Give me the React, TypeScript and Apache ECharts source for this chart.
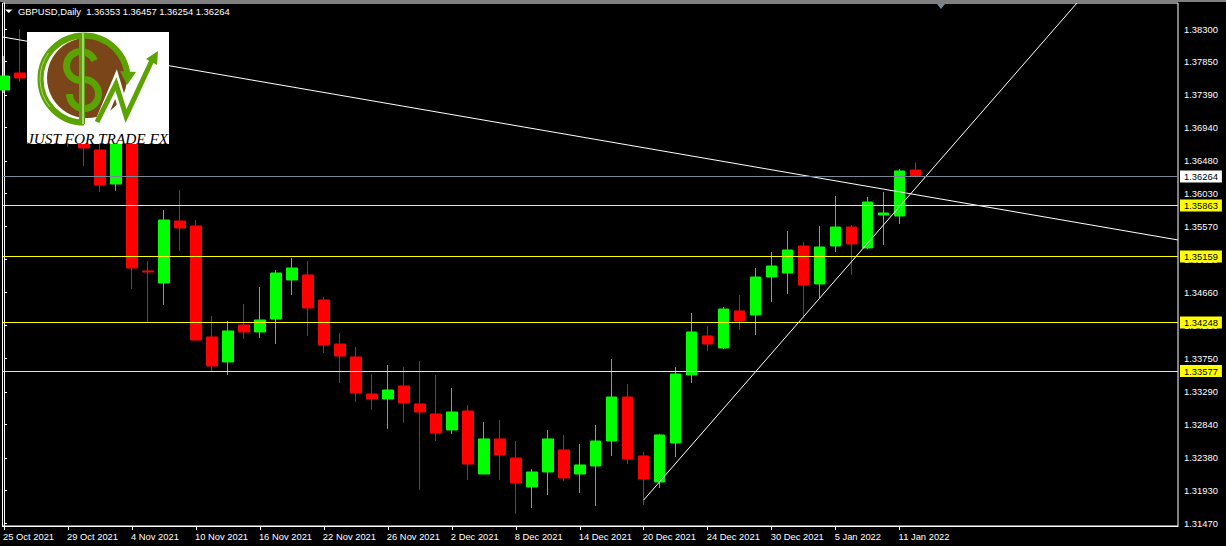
import React, { useEffect, useRef } from "react";
import * as echarts from "echarts";

const symbolTitle = "GBPUSD,Daily";
const ohlcText = "1.36353 1.36457 1.36254 1.36264";

const opens = [
  1.37458, 1.37693, 1.37596, 1.37389, 1.37458, 1.36975, 1.3663, 1.3616, 1.37044, 1.34959,
  1.34793, 1.35649, 1.3558, 1.34048, 1.33703, 1.34213, 1.34117, 1.34296, 1.34835, 1.34904,
  1.34559, 1.33951, 1.33772, 1.33261, 1.33192, 1.33371, 1.33123, 1.32985, 1.32764, 1.33026,
  1.32156, 1.3264, 1.32377, 1.31977, 1.32184, 1.32488, 1.32156, 1.32267, 1.32612, 1.33219,
  1.32405, 1.32046, 1.32584, 1.33523, 1.34062, 1.33896, 1.34407, 1.34352, 1.34876, 1.34931,
  1.35304, 1.3478, 1.35304, 1.35566, 1.35277, 1.35732, 1.35718, 1.36353,
];
const closes = [
  1.37651, 1.37624, 1.3732, 1.37665, 1.36906, 1.36657, 1.36146, 1.37113, 1.35, 1.34945,
  1.35663, 1.35553, 1.34006, 1.33647, 1.34131, 1.34117, 1.34283, 1.34931, 1.35, 1.34448,
  1.33937, 1.33785, 1.33275, 1.33192, 1.33316, 1.33137, 1.33012, 1.32722, 1.33012, 1.32294,
  1.3264, 1.32419, 1.32032, 1.32184, 1.3264, 1.32101, 1.32281, 1.32612, 1.33219, 1.32363,
  1.32087, 1.32695, 1.33537, 1.34117, 1.33951, 1.34434, 1.34269, 1.34876, 1.35028, 1.35249,
  1.34766, 1.3529, 1.35566, 1.35332, 1.35912, 1.3576, 1.3634, 1.36264,
];
const lows = [
  1.37416, 1.37568, 1.37182, 1.37251, 1.36671, 1.36409, 1.3605, 1.36064, 1.3471, 1.34255,
  1.3449, 1.35235, 1.34006, 1.33578, 1.33523, 1.3402, 1.34034, 1.33951, 1.34628, 1.34062,
  1.33827, 1.33413, 1.3315, 1.3304, 1.32778, 1.32861, 1.31936, 1.32612, 1.32709, 1.32074,
  1.32156, 1.32074, 1.31604, 1.31687, 1.31866, 1.3206, 1.31894, 1.31715, 1.32405, 1.32294,
  1.31728, 1.31963, 1.32391, 1.33413, 1.33855, 1.33882, 1.34144, 1.34075, 1.34531, 1.34641,
  1.3431, 1.34586, 1.35221, 1.34904, 1.35263, 1.35318, 1.35608, 1.36254,
];
const highs = [
  1.37927, 1.383, 1.37734, 1.37872, 1.37665, 1.37182, 1.36906, 1.3732, 1.37251, 1.35097,
  1.35801, 1.36077, 1.35663, 1.34338, 1.34269, 1.34503, 1.34738, 1.34973, 1.35138, 1.35097,
  1.346, 1.34103, 1.3391, 1.33537, 1.33661, 1.33634, 1.33716, 1.33523, 1.33344, 1.33109,
  1.32874, 1.32902, 1.32612, 1.32225, 1.32764, 1.32695, 1.32571, 1.32833, 1.33744, 1.33399,
  1.3246, 1.32709, 1.33634, 1.34379, 1.342, 1.34462, 1.34628, 1.35, 1.35221, 1.35511,
  1.35359, 1.3558, 1.35994, 1.35594, 1.35981, 1.3605, 1.36367, 1.36457,
];

const dateTickBars = [0, 4, 8, 12, 16, 20, 24, 28, 32, 36, 40, 44, 48, 52, 56];
const dateTickLabels = [
  "25 Oct 2021", "29 Oct 2021", "4 Nov 2021", "10 Nov 2021", "16 Nov 2021",
  "22 Nov 2021", "26 Nov 2021", "2 Dec 2021", "8 Dec 2021", "14 Dec 2021",
  "20 Dec 2021", "24 Dec 2021", "30 Dec 2021", "5 Jan 2022", "11 Jan 2022",
];
const priceTicks = [
  1.383, 1.3785, 1.3739, 1.3694, 1.3648, 1.3603, 1.3557, 1.3512,
  1.3466, 1.3421, 1.3375, 1.3329, 1.3284, 1.3238, 1.3193, 1.3147,
];
const yellowLevels = [1.35863, 1.35159, 1.34248, 1.33577];
const lastPrice = 1.36264;
const falling = [[-0.09375, 1.3819], [73.40625, 1.35387]];
const rising = [[40, 1.31797], [67.09, 1.38659]];

const UP = "#00ff00";
const DOWN = "#ff0000";
const FONT = "Liberation Sans";
const LOGO_GREEN = "#5aa300";
const LOGO_LIGHT = "#a9d27a";
const LOGO_BROWN = "#7a4519";
const TOP = { z: 100, zlevel: 1 };

function logo() {
  const ring = (startAngle: number, endAngle: number, lineWidth: number, stroke: string, r = 43.5) => ({
    type: "arc",
    shape: { cx: 84, cy: 79, r, startAngle, endAngle, clockwise: true },
    style: { stroke, lineWidth, fill: "none" },
  });
  const sCurve = (cx: number, cy: number, startAngle: number, endAngle: number, clockwise: boolean) => ({
    type: "arc",
    shape: { cx, cy, r: 14.5, startAngle, endAngle, clockwise },
    style: { stroke: LOGO_GREEN, lineWidth: 7, fill: "none" },
  });
  const parts: any[] = [
    { type: "rect", shape: { x: 27, y: 32, width: 142, height: 112 }, style: { fill: "#ffffff" } },
    { type: "circle", shape: { cx: 87, cy: 78, r: 40 }, style: { fill: LOGO_BROWN } },
    { type: "polyline", shape: { points: [[100, 122], [116, 84], [126, 118], [152, 60]] }, style: { stroke: "#ffffff", lineWidth: 10, fill: "none" } },
    ring(Math.PI * 0.5, Math.PI * 2.0, 6, LOGO_GREEN),
    ring(Math.PI * 0.78, Math.PI * 1.2, 1, LOGO_LIGHT, 44),
    { type: "polygon", shape: { points: [[120, 71], [136, 72], [127, 85]] }, style: { fill: LOGO_GREEN } },
    { type: "polyline", shape: { points: [[97, 122], [116, 84], [126, 116], [153, 58]] }, style: { stroke: LOGO_GREEN, lineWidth: 5, fill: "none" } },
    { type: "polygon", shape: { points: [[158, 51], [146, 59], [157, 65]] }, style: { fill: LOGO_GREEN } },
    sCurve(81, 66, -Math.PI * 0.12, Math.PI * 0.5, false),
    sCurve(84, 94, -Math.PI * 0.5, Math.PI * 1.0, true),
    { type: "rect", shape: { x: 79, y: 33, width: 6, height: 91 }, style: { fill: LOGO_GREEN } },
    { type: "rect", shape: { x: 82, y: 33, width: 2, height: 91 }, style: { fill: LOGO_LIGHT } },
    {
      type: "text",
      x: 27,
      y: 138.5,
      style: {
        text: "JUST FOR TRADE FX",
        fill: "#000000",
        font: "italic 15.3px 'Liberation Serif'",
        verticalAlign: "middle",
        align: "left",
      },
    },
  ];
  return parts.map((p) => ({ ...p, ...TOP }));
}

export default function App() {
  const ref = useRef<HTMLDivElement>(null);
  useEffect(() => {
    document.body.style.margin = "0";
    document.body.style.background = "#000";
    const chart = echarts.init(ref.current!, undefined, { renderer: "svg" });
    const bars = opens.map((o, i) => [i, o, closes[i], lows[i], highs[i]]);
    const levelItem = (value: number, lineColor: string, boxColor: string) => ({
      yAxis: value,
      lineStyle: { color: lineColor, width: 1, type: "solid" },
      label: {
        show: true,
        position: "end",
        distance: 2,
        formatter: value.toFixed(5),
        color: "#000",
        backgroundColor: boxColor,
        padding: [2, 4, 1, 4],
        fontFamily: FONT,
        fontSize: 9.4,
      },
    });
    chart.setOption({
      animation: false,
      backgroundColor: "#000000",
      grid: {
        show: true,
        left: 2,
        top: 3,
        width: 1176,
        height: 523,
        borderColor: "#ffffff",
        borderWidth: 1,
        backgroundColor: "#000000",
      },
      xAxis: {
        type: "value",
        min: -0.09375,
        max: 73.40625,
        splitLine: { show: false },
        axisLine: { show: true, lineStyle: { color: "#fff", width: 1 } },
        axisTick: { show: true, length: 4, lineStyle: { color: "#fff" }, customValues: dateTickBars },
        axisLabel: {
          customValues: dateTickBars,
          formatter: (v: number) => dateTickLabels[dateTickBars.indexOf(v)] ?? "",
          color: "#ffffff",
          fontFamily: FONT,
          fontSize: 9.4,
          align: "left",
          margin: 6,
          padding: [0, 0, 0, -1],
        },
      },
      yAxis: {
        type: "value",
        position: "right",
        min: 1.31438,
        max: 1.38659,
        splitLine: { show: false },
        axisLine: { show: true, lineStyle: { color: "#fff", width: 1 } },
        axisTick: { show: true, length: 3, lineStyle: { color: "#fff" }, customValues: priceTicks },
        axisLabel: {
          customValues: priceTicks,
          formatter: (v: number) => v.toFixed(5),
          color: "#ffffff",
          fontFamily: FONT,
          fontSize: 9.4,
          margin: 6,
        },
      },
      series: [
        {
          type: "candlestick",
          data: bars,
          encode: { x: 0, y: [1, 2, 3, 4] },
          barWidth: 11,
          itemStyle: { color: UP, color0: DOWN, borderColor: UP, borderColor0: DOWN, borderWidth: 1 },
          markLine: {
            silent: true,
            symbol: "none",
            animation: false,
            precision: 5,
            data: [
              levelItem(lastPrice, "#778899", "#ffffff"),
              ...yellowLevels.map((v) => levelItem(v, "#ffff00", "#ffff00")),
            ],
          },
        },
        { type: "line", data: falling, symbol: "none", silent: true, lineStyle: { color: "#fff", width: 1 }, z: 4 },
        { type: "line", data: rising, symbol: "none", silent: true, lineStyle: { color: "#fff", width: 1 }, z: 4 },
      ],
      graphic: {
        elements: [
          { type: "rect", ...TOP, shape: { x: 0, y: 0, width: 1226, height: 2 }, style: { fill: "#808080" } },
          { type: "polygon", ...TOP, shape: { points: [[5, 9.5], [12.5, 9.5], [8.75, 13]] }, style: { fill: "#ffffff" } },
          { type: "polygon", ...TOP, shape: { points: [[937, 4], [945, 4], [941, 9]] }, style: { fill: "#778899" } },
          {
            type: "text",
            ...TOP,
            x: 18,
            y: 11.5,
            style: {
              text: symbolTitle + "  " + ohlcText,
              fill: "#ffffff",
              font: `9.4px '${FONT}'`,
              verticalAlign: "middle",
            },
          },
          ...logo(),
        ],
      },
    });
    return () => chart.dispose();
  }, []);
  return <div ref={ref} style={{ width: 1226, height: 546 }} />;
}
